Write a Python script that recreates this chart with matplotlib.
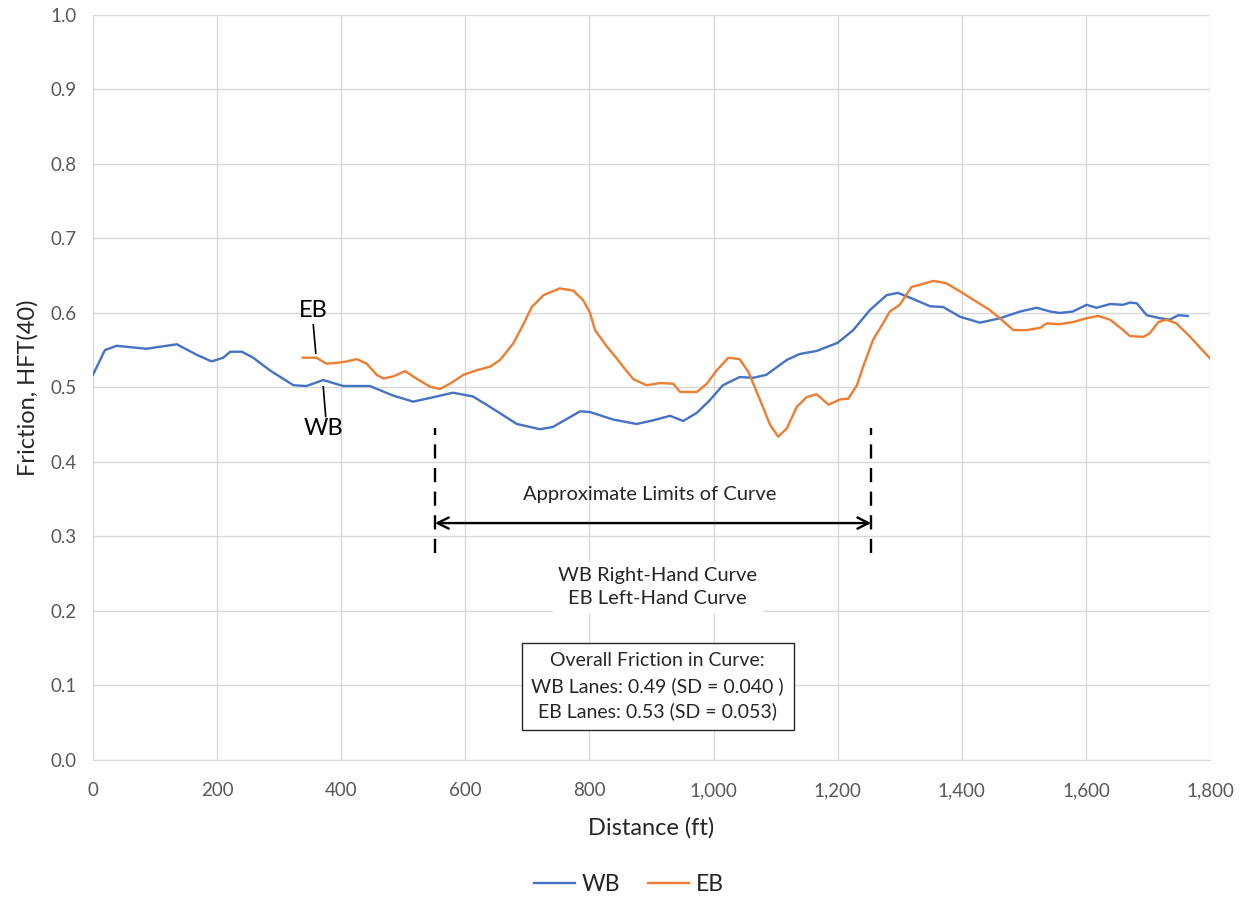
import matplotlib
matplotlib.use("Agg")
import matplotlib.pyplot as plt
from matplotlib.ticker import FuncFormatter, MultipleLocator

plt.rcParams["font.family"] = ["Lato", "DejaVu Sans"]

# Westbound friction profile
wb_dist = [0, 19, 38, 86, 135, 167, 191, 210, 221, 240, 258, 285, 323, 344, 371,
           403, 446, 484, 516, 554, 580, 612, 634, 683, 720, 741, 785, 801, 838,
           876, 903, 930, 951, 973, 994, 1015, 1042, 1064, 1085, 1118, 1139,
           1166, 1200, 1225, 1252, 1279, 1297, 1321, 1349, 1370, 1397, 1429,
           1462, 1494, 1521, 1542, 1558, 1579, 1601, 1617, 1639, 1660, 1671,
           1682, 1698, 1719, 1735, 1749, 1764]
wb_fric = [0.517, 0.550, 0.556, 0.552, 0.558, 0.544, 0.535, 0.540, 0.548, 0.548,
           0.540, 0.523, 0.503, 0.502, 0.510, 0.502, 0.502, 0.489, 0.481, 0.488,
           0.493, 0.488, 0.477, 0.451, 0.444, 0.447, 0.468, 0.467, 0.457, 0.451,
           0.456, 0.462, 0.455, 0.466, 0.483, 0.503, 0.514, 0.513, 0.517, 0.537,
           0.545, 0.549, 0.560, 0.577, 0.604, 0.624, 0.627, 0.619, 0.609, 0.608,
           0.595, 0.587, 0.593, 0.602, 0.607, 0.602, 0.600, 0.602, 0.611, 0.607,
           0.612, 0.611, 0.614, 0.613, 0.597, 0.593, 0.591, 0.597, 0.596]

# Eastbound friction profile
eb_dist = [338, 360, 376, 393, 409, 425, 441, 457, 468, 484, 503, 521, 543, 559,
           575, 597, 618, 640, 656, 677, 693, 707, 726, 752, 774, 790, 801, 809,
           828, 844, 855, 871, 892, 914, 935, 946, 973, 989, 1005, 1024, 1042,
           1056, 1075, 1091, 1104, 1118, 1134, 1150, 1166, 1185, 1204, 1217,
           1231, 1241, 1257, 1273, 1284, 1300, 1319, 1333, 1354, 1375, 1397,
           1424, 1445, 1464, 1483, 1504, 1526, 1537, 1558, 1580, 1601, 1620,
           1639, 1660, 1671, 1693, 1703, 1717, 1730, 1746, 1768, 1800]
eb_fric = [0.540, 0.540, 0.532, 0.533, 0.535, 0.538, 0.532, 0.517, 0.512, 0.515,
           0.522, 0.512, 0.501, 0.498, 0.505, 0.517, 0.523, 0.528, 0.537, 0.559,
           0.584, 0.608, 0.624, 0.633, 0.630, 0.617, 0.600, 0.577, 0.555, 0.539,
           0.527, 0.511, 0.503, 0.506, 0.505, 0.494, 0.494, 0.505, 0.523, 0.540,
           0.538, 0.521, 0.483, 0.450, 0.434, 0.445, 0.474, 0.487, 0.491, 0.477,
           0.484, 0.485, 0.503, 0.528, 0.564, 0.586, 0.602, 0.611, 0.635, 0.638,
           0.643, 0.640, 0.629, 0.615, 0.604, 0.591, 0.577, 0.577, 0.580, 0.586,
           0.585, 0.588, 0.593, 0.596, 0.591, 0.577, 0.569, 0.568, 0.573, 0.588,
           0.591, 0.586, 0.568, 0.539]

curve_start, curve_end = 551, 1254
summary_lines = ["Overall Friction in Curve:",
                 "WB Lanes: 0.49 (SD = 0.040 )",
                 "EB Lanes: 0.53 (SD = 0.053)"]

WB_COLOR = "#4472C4"
EB_COLOR = "#ED7D31"
GRID = "#D9D9D9"
TEXT = "#262626"

fig = plt.figure(figsize=(12.45, 8.98), dpi=100)
ax = fig.add_axes([0.0747, 0.1537, 0.8972, 0.8296])

ax.plot(wb_dist, wb_fric, color=WB_COLOR, lw=1.7, label="WB", zorder=3)
ax.plot(eb_dist, eb_fric, color=EB_COLOR, lw=1.7, label="EB", zorder=3)

ax.set_xlim(0, 1800)
ax.set_ylim(0, 1.0)
ax.xaxis.set_major_locator(MultipleLocator(200))
ax.yaxis.set_major_locator(MultipleLocator(0.1))
ax.xaxis.set_major_formatter(FuncFormatter(lambda v, p: f"{int(v):,}"))
ax.yaxis.set_major_formatter(FuncFormatter(lambda v, p: f"{v:.1f}"))
ax.grid(True, color=GRID, lw=1.0, zorder=0)
ax.set_axisbelow(True)
for side in ["top", "right", "left"]:
    ax.spines[side].set_visible(False)
ax.spines["bottom"].set_color(GRID)
ax.tick_params(axis="x", length=0, labelsize=13.5, colors="#595959", pad=16)
ax.tick_params(axis="y", length=0, labelsize=13.5, colors="#595959", pad=12)
ax.set_xlabel("Distance (ft)", fontsize=17, color=TEXT, labelpad=13)
ax.set_ylabel("Friction, HFT(40)", fontsize=17, color=TEXT, labelpad=8)

# Curve limits
for xv in (curve_start, curve_end):
    ax.plot([xv, xv], [0.278, 0.446], color="black", lw=1.7,
            dashes=(6, 4), zorder=4)
ax.annotate("", xy=(curve_start, 0.318), xytext=(curve_end, 0.318),
            arrowprops=dict(arrowstyle="<->", color="black", lw=1.7,
                            shrinkA=0, shrinkB=0, mutation_scale=20))
ax.text(897, 0.357, "Approximate Limits of Curve", ha="center", va="center",
        fontsize=14.5, color=TEXT)
ax.text(910, 0.232, "WB Right-Hand Curve\nEB Left-Hand Curve", ha="center",
        va="center", fontsize=14.5, color=TEXT, linespacing=1.4,
        bbox=dict(facecolor="white", edgecolor="none", pad=4))
ax.text(910, 0.099, "\n".join(summary_lines), ha="center", va="center",
        fontsize=14, color=TEXT, linespacing=1.5,
        bbox=dict(facecolor="white", edgecolor="#262626", lw=1.0,
                  boxstyle="square,pad=0.5"))

# Series labels with leaders
ax.plot([355, 359], [0.584, 0.546], color="black", lw=1.2, zorder=4)
ax.text(355, 0.604, "EB", ha="center", va="center", fontsize=17, color="black")
ax.plot([371, 375], [0.501, 0.461], color="black", lw=1.2, zorder=4)
ax.text(371, 0.445, "WB", ha="center", va="center", fontsize=17, color="black")

fig.legend(loc="center", bbox_to_anchor=(0.505, 0.0155), ncol=2, frameon=False,
           fontsize=16.5, handlelength=1.8, columnspacing=1.2, handletextpad=0.3,
           labelcolor=TEXT)

fig.savefig("out.png", dpi=100)
